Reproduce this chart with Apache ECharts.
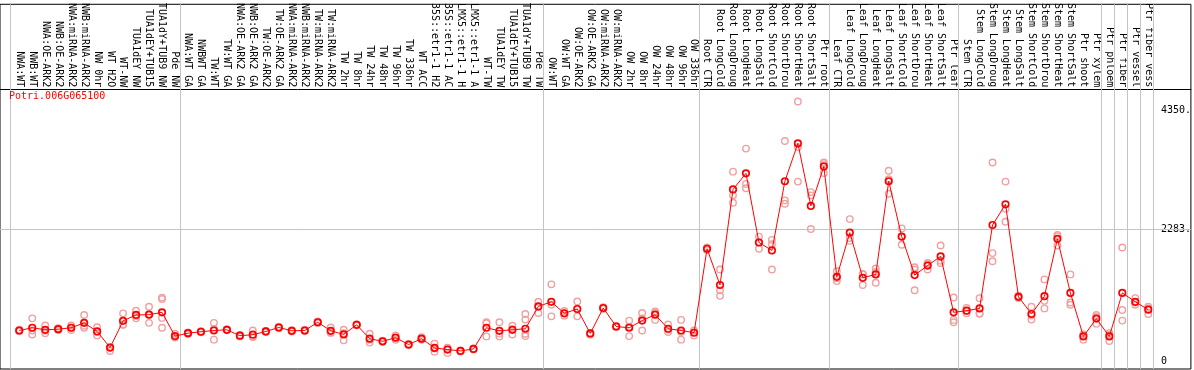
<!DOCTYPE html>
<html><head><meta charset="utf-8">
<script src="https://cdn.jsdelivr.net/npm/echarts@6/dist/echarts.min.js"></script>
<style>html,body{margin:0;padding:0;background:#fff}#c{width:1194px;height:370px}</style>
</head><body><div id="c"></div>
<script>
const title = 'Potri.006G065100';
const categories = [
 'NWA:WT','NWB:WT','NWA:OE-ARK2','NWB:OE-ARK2','NWA:miRNA-ARK2','NWB:miRNA-ARK2','NW 0hr','WT H2O','WT-NW','TUA1dEY NW','TUA1dEY+TUB15','TUA1dY+TUB9 NW','Pde NW',
 'NWA:WT GA','NWBWT GA','TW:WT','TW:WT GA','NWA:OE-ARK2 GA','NWB:OE-ARK2 GA','TW:OE-ARK2','TW:OE-ARK2 GA','NWA:miRNA-ARK2','NWB:miRNA-ARK2','TW:miRNA-ARK2','TW:miRNA-ARK2','TW 2hr','TW 8hr','TW 24hr','TW 48hr','TW 96hr','TW 336hr','WT ACC','35S::etr1-1 H2','35S::etr1-1 AC','LMX5::etr1-1 H','LMX5::etr1-1 A','WT-TW','TUA1dEY TW','TUA1dEY+TUB15','TUA1dY+TUB9 TW','Pde TW',
 'OW:WT','OW:WT GA','OW:OE-ARK2','OW:OE-ARK2 GA','OW:miRNA-ARK2','OW:miRNA-ARK2','OW 2hr','OW 8hr','OW 24hr','OW 48hr','OW 96hr','OW 336hr',
 'Root CTR','Root LongCold','Root LongDroug','Root LongHeat','Root LongSalt','Root ShortCold','Root ShortDrou','Root ShortHeat','Root ShortSalt','Ptr root',
 'Leaf CTR','Leaf LongCold','Leaf LongDroug','Leaf LongHeat','Leaf LongSalt','Leaf ShortCold','Leaf ShortDrou','Leaf ShortHeat','Leaf ShortSalt','Ptr leaf',
 'Stem CTR','Stem LongCold','Stem LongDroug','Stem LongHeat','Stem LongSalt','Stem ShortCold','Stem ShortDrou','Stem ShortHeat','Stem ShortSalt','Ptr shoot','Ptr xylem',
 'Ptr phloem','Ptr fiber','Ptr vessel','Ptr fiber vess'
];
const groupSizes = [13, 28, 12, 10, 10, 11, 1, 1, 1, 1];
const means = [
 542,589,554,565,589,674,525,247,708,810,815,855,445,
 496,520,542,554,452,469,525,594,537,542,684,537,474,640,401,355,418,299,401,241,213,189,223,589,537,554,572,957,
 1037,838,913,491,930,611,589,713,815,572,542,503,
 1953,1327,2977,3255,2061,1924,3119,3772,2692,3374,
 1469,2231,1452,1510,3119,2163,1498,1663,1822,855,
 884,923,2363,2721,1123,827,1134,2124,1191,440,747,
 440,1191,1037,901
];
const replicates = [
 [530,542,555],[474,541,752],[496,538,628],[550,565,580],[551,589,628],[589,623,810],[457,519,599],[189,247,252],[640,646,838],[752,794,884],[674,819,952],[589,759,1085,1110],[420,430,486],
 [480,496,510],[510,520,530],[384,568,674],[545,554,563],[440,452,465],[430,435,542],[515,525,535],[580,594,608],[525,537,549],[530,542,554],[670,684,698],[500,517,594],[372,496,554],[630,640,650],[333,384,486],[345,355,365],[380,418,457],[290,299,308],[380,395,428],[177,230,316],[155,241,243],[180,189,198],[215,223,231],[440,667,684],[440,487,684],[474,565,623],[445,486,730,827],[845,957,1037],
 [786,986,1339],[798,838,878],[786,911,1042],[470,486,500],[915,930,945],[600,611,622],[445,609,713],[542,752,845],[725,848,872],[514,557,645],[384,517,725],[457,510,542],
 [1930,1953,1976],[1140,1237,1595],[2748,2875,3284],[2999,3073,3682],[1953,2067,2163],[1595,2032,2107],[2731,2789,3813],[3113,3708,4495],[2295,2875,2931],[3260,3414,3443],
 [1395,1446,1566],[2090,2138,2465],[1327,1510,1519],[1367,1551,1612],[2902,3154,3301],[2022,2162,2305],[1237,1595,1634],[1595,1686,1708],[1708,1748,2010],[684,725,1111],
 [838,884,930],[831,838,1100],[1737,1878,3443],[2419,2646,3113],[1105,1123,1141],[730,799,952],[923,1054,1424],[2010,2170,2192],[986,1025,1510],[384,462,474],[657,774,810],
 [360,464,496],[713,896,1976],[986,1025,1100],[827,924,952]
];
const yTicks = [0, 2283, 4350];
const yTickLabels = ['0', '2283.', '4350.'];

const FONT = 'DejaVu Sans Mono';

// group boundary positions (between categories)
const bounds = [-0.66];
let acc = 0;
groupSizes.forEach(s => { acc += s; bounds.push(acc - 0.615); });

const repData = [];
replicates.forEach((arr, i) => arr.forEach(v => repData.push([i, v])));
const meanData = means.map((v, i) => [i, v]);

const chart = echarts.init(document.getElementById('c'), null, {renderer: 'canvas'});
chart.setOption({
  animation: false,
  title: {text: title, left: 9, top: 91, padding: 0, textStyle: {color: '#ff0000', fontSize: 10, fontFamily: FONT, fontWeight: 'normal'}},
  grid: {left: 0, top: 0, right: 1, bottom: 1, show: true, borderColor: '#000', borderWidth: 1, backgroundColor: 'transparent'},
  xAxis: {
    type: 'value', min: -1.4846, max: 90.285, position: 'top', offset: -85,
    axisLine: {show: true, onZero: false, lineStyle: {color: '#000', width: 1}},
    axisTick: {show: false}, splitLine: {show: false},
    axisLabel: {
      customValues: categories.map((_, i) => i), rotate: 90, margin: 2,
      fontFamily: FONT, fontSize: 10, color: '#000', hideOverlap: false,
      padding: [0, 0, 2, 0],
      formatter: v => categories[v] || ''
    }
  },
  yAxis: {
    type: 'value', min: -122.9, max: 6174, position: 'right',
    axisLine: {show: false}, axisTick: {show: false}, splitLine: {show: false},
    axisLabel: {
      inside: true, customValues: yTicks, align: 'left', margin: 30,
      fontFamily: FONT, fontSize: 10, color: '#000',
      formatter: v => yTickLabels[yTicks.indexOf(v)]
    }
  },
  series: [
    {
      type: 'scatter', data: repData, symbol: 'circle', symbolSize: 6.5,
      itemStyle: {color: 'rgba(0,0,0,0)', borderColor: '#f0a0a0', borderWidth: 1.4, opacity: 1},
      markLine: {
        silent: true, symbol: 'none', label: {show: false},
        lineStyle: {color: '#c4c4c4', width: 1, type: 'solid'},
        data: bounds.map(b => ({xAxis: b})).concat([{yAxis: yTicks[1]}])
      },
      z: 1
    },
    {
      type: 'line', data: meanData, symbol: 'circle', symbolSize: 6.5, showAllSymbol: true, z: 5,
      lineStyle: {color: '#ff0000', width: 1},
      itemStyle: {color: 'rgba(0,0,0,0)', borderColor: '#ff0000', borderWidth: 1.7}
    }
  ]
});
</script></body></html>
